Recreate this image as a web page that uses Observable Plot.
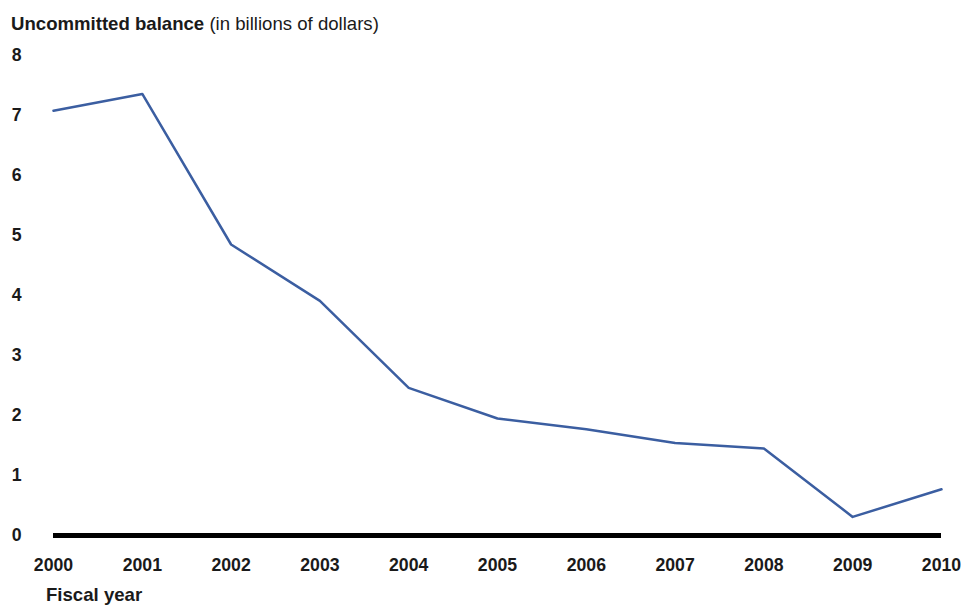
<!DOCTYPE html>
<html>
<head>
<meta charset="utf-8">
<script src="https://cdn.jsdelivr.net/npm/d3@7"></script>
<script src="https://cdn.jsdelivr.net/npm/@observablehq/plot@0.6"></script>
<style>
  html, body { margin: 0; padding: 0; background: #fff; }
  #wrap { position: relative; width: 964px; height: 605px; font-family: "Liberation Sans", Arial, sans-serif; color: #1a1a1a; }
  #title { position: absolute; left: 11px; top: 14.5px; font-size: 18.6px; line-height: 18.6px; white-space: nowrap; }
  #title b { font-weight: bold; }
  #xlabel { position: absolute; left: 46px; top: 586px; font-size: 18.6px; line-height: 18.6px; font-weight: bold; white-space: nowrap; }
</style>
</head>
<body>
<div id="wrap">
  <div id="chart"></div>
  <div id="title"><b>Uncommitted balance</b> (in billions of dollars)</div>
  <div id="xlabel">Fiscal year</div>
</div>
<script>
const years = [2000, 2001, 2002, 2003, 2004, 2005, 2006, 2007, 2008, 2009, 2010];
const balance = [7.08, 7.36, 4.85, 3.91, 2.46, 1.95, 1.77, 1.54, 1.45, 0.31, 0.77];
const yTicks = [0, 1, 2, 3, 4, 5, 6, 7, 8];

const data = years.map((y, i) => ({year: y, value: balance[i]}));

const chart = Plot.plot({
  width: 964,
  height: 605,
  marginTop: 55,
  marginBottom: 70,
  marginLeft: 53,
  marginRight: 23,
  style: {
    fontFamily: "'Liberation Sans', Arial, sans-serif",
    fontSize: "17.7px",
    fontWeight: "bold",
    color: "#1a1a1a",
    background: "white",
    overflow: "visible"
  },
  x: {domain: [2000, 2010], ticks: years, tickFormat: d => String(d), tickSize: 0, tickPadding: 23, label: null},
  y: {domain: [0, 8], ticks: yTicks, tickFormat: d => String(d), tickSize: 0, tickPadding: 32, label: null},
  marks: [
    Plot.ruleY([0], {stroke: "#000", strokeWidth: 5}),
    Plot.line(data, {x: "year", y: "value", stroke: "#3b5ea1", strokeWidth: 2.5})
  ]
});
document.getElementById("chart").appendChild(chart);
</script>
</body>
</html>
